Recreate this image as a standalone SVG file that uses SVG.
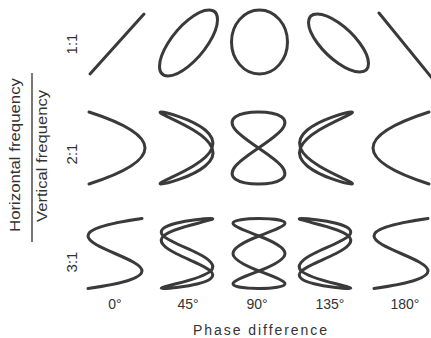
<svg xmlns="http://www.w3.org/2000/svg" width="431" height="338" viewBox="0 0 431 338">
<style>
.c{fill:none;stroke:#3a3a3a;stroke-width:3;stroke-linecap:round;stroke-linejoin:round;vector-effect:non-scaling-stroke}
.t{font-family:"Liberation Sans","DejaVu Sans",sans-serif;fill:#333}
.r{font-size:15px;text-anchor:middle}
.d{font-size:14px;text-anchor:middle}
</style>
<defs>
<path id="par" class="c" d="M-1,-1 Q3,0 -1,1"/>
<path id="a45" class="c" d="M-0.9659,-1 C-0.8756,-1 -0.596,-0.9533 -0.2588,-0.866 C0.0784,-0.7787 0.4603,-0.6511 0.7071,-0.5 C0.9539,-0.3489 1.0562,-0.1745 0.9659,0 C0.8756,0.1745 0.596,0.3489 0.2588,0.5 C-0.0784,0.6511 -0.4603,0.7787 -0.7071,0.866 C-0.9539,0.9533 -1.0562,1 -0.9659,1 C-0.8756,1 -0.596,0.9533 -0.2588,0.866 C0.0784,0.7787 0.4603,0.6511 0.7071,0.5 C0.9539,0.3489 1.0562,0.1745 0.9659,0 C0.8756,-0.1745 0.596,-0.3489 0.2588,-0.5 C-0.0784,-0.6511 -0.4603,-0.7787 -0.7071,-0.866 C-0.9539,-0.9533 -1.0562,-1 -0.9659,-1Z"/>
<path id="a90" class="c" d="M0,-1 C0.3491,-1 0.6915,-0.9533 0.866,-0.866 C1.0405,-0.7787 1.0405,-0.6511 0.866,-0.5 C0.6915,-0.3489 0.3491,-0.1745 0,0 C-0.3491,0.1745 -0.6915,0.3489 -0.866,0.5 C-1.0405,0.6511 -1.0405,0.7787 -0.866,0.866 C-0.6915,0.9533 -0.3491,1 0,1 C0.3491,1 0.6915,0.9533 0.866,0.866 C1.0405,0.7787 1.0405,0.6511 0.866,0.5 C0.6915,0.3489 0.3491,0.1745 0,0 C-0.3491,-0.1745 -0.6915,-0.3489 -0.866,-0.5 C-1.0405,-0.6511 -1.0405,-0.7787 -0.866,-0.866 C-0.6915,-0.9533 -0.3491,-1 0,-1Z"/>
<path id="cheb" class="c" d="M-1,1 C5,0.3333 -5,-0.3333 1,-1"/>
<path id="b45" class="c" d="M0.9063,-1 C0.685,-1 0.0519,-0.9533 -0.4226,-0.866 C-0.8971,-0.7787 -1.1276,-0.6511 -0.9063,-0.5 C-0.685,-0.3489 -0.0519,-0.1745 0.4226,0 C0.8971,0.1745 1.1276,0.3489 0.9063,0.5 C0.685,0.6511 0.0519,0.7787 -0.4226,0.866 C-0.8971,0.9533 -1.1276,1 -0.9063,1 C-0.685,1 -0.0519,0.9533 0.4226,0.866 C0.8971,0.7787 1.1276,0.6511 0.9063,0.5 C0.685,0.3489 0.0519,0.1745 -0.4226,0 C-0.8971,-0.1745 -1.1276,-0.3489 -0.9063,-0.5 C-0.685,-0.6511 -0.0519,-0.7787 0.4226,-0.866 C0.8971,-0.9533 1.1276,-1 0.9063,-1Z"/>
<path id="b90" class="c" d="M0,-1 C-0.5236,-1 -1,-0.9533 -1,-0.866 C-1,-0.7787 -0.5236,-0.6511 0,-0.5 C0.5236,-0.3489 1,-0.1745 1,0 C1,0.1745 0.5236,0.3489 0,0.5 C-0.5236,0.6511 -1,0.7787 -1,0.866 C-1,0.9533 -0.5236,1 0,1 C0.5236,1 1,0.9533 1,0.866 C1,0.7787 0.5236,0.6511 0,0.5 C-0.5236,0.3489 -1,0.1745 -1,0 C-1,-0.1745 -0.5236,-0.3489 0,-0.5 C0.5236,-0.6511 1,-0.7787 1,-0.866 C1,-0.9533 0.5236,-1 0,-1Z"/>
</defs>

<g id="labels" class="t">
<text class="r" transform="translate(77,44) rotate(-90)">1:1</text>
<text class="r" transform="translate(77,154) rotate(-90)">2:1</text>
<text class="r" transform="translate(77,262) rotate(-90)">3:1</text>
<text font-size="14" text-anchor="middle" textLength="154" lengthAdjust="spacingAndGlyphs" transform="translate(20,155) rotate(-90)">Horizontal frequency</text>
<text font-size="14" text-anchor="middle" textLength="132" lengthAdjust="spacingAndGlyphs" transform="translate(47,156) rotate(-90)">Vertical frequency</text>
<text class="d" x="115" y="309">0°</text>
<text class="d" x="188" y="309">45°</text>
<text class="d" x="257" y="309">90°</text>
<text class="d" x="330" y="309">135°</text>
<text class="d" x="405" y="309">180°</text>
<text font-size="14" text-anchor="middle" x="260" y="335" textLength="134" lengthAdjust="spacing">Phase difference</text>
</g>
<line id="fraction-bar" x1="32" y1="73" x2="32" y2="242" stroke="#777" stroke-width="2"/>

<g id="row-1-1">
<line id="f11-0" class="c" x1="90" y1="74" x2="144" y2="14"/>
<ellipse id="f11-45" class="c" cx="0" cy="0" rx="1" ry="1" transform="matrix(29,-23.33,0,-23.33,188.5,43)"/>
<ellipse id="f11-90" class="c" cx="259.5" cy="42" rx="28" ry="32"/>
<ellipse id="f11-135" class="c" cx="0" cy="0" rx="1" ry="1" transform="matrix(30,20.5,0,-20.5,338.5,43)"/>
<line id="f11-180" class="c" x1="379" y1="13" x2="432" y2="78"/>
</g>
<g id="row-2-1">
<use id="f21-0" href="#par" transform="translate(117,148) scale(28,36)"/>
<use id="f21-45" href="#a45" transform="translate(186.5,148) scale(26.5,36)"/>
<use id="f21-90" href="#a90" transform="translate(258.5,148) scale(26.5,36)"/>
<use id="f21-135" href="#a45" transform="translate(326,148) scale(-26.5,36)"/>
<use id="f21-180" href="#par" transform="translate(401,148) scale(-28,36)"/>
</g>
<g id="row-3-1">
<use id="f31-0" href="#cheb" transform="translate(115,253.5) scale(27,35)"/>
<use id="f31-45" href="#b45" transform="translate(187,253.5) scale(26,35)"/>
<use id="f31-90" href="#b90" transform="translate(259,253.5) scale(26,35)"/>
<use id="f31-135" href="#b45" transform="translate(325,253.5) scale(-26,35)"/>
<use id="f31-180" href="#cheb" transform="translate(401,253.5) scale(27,35)"/>
</g>
</svg>
